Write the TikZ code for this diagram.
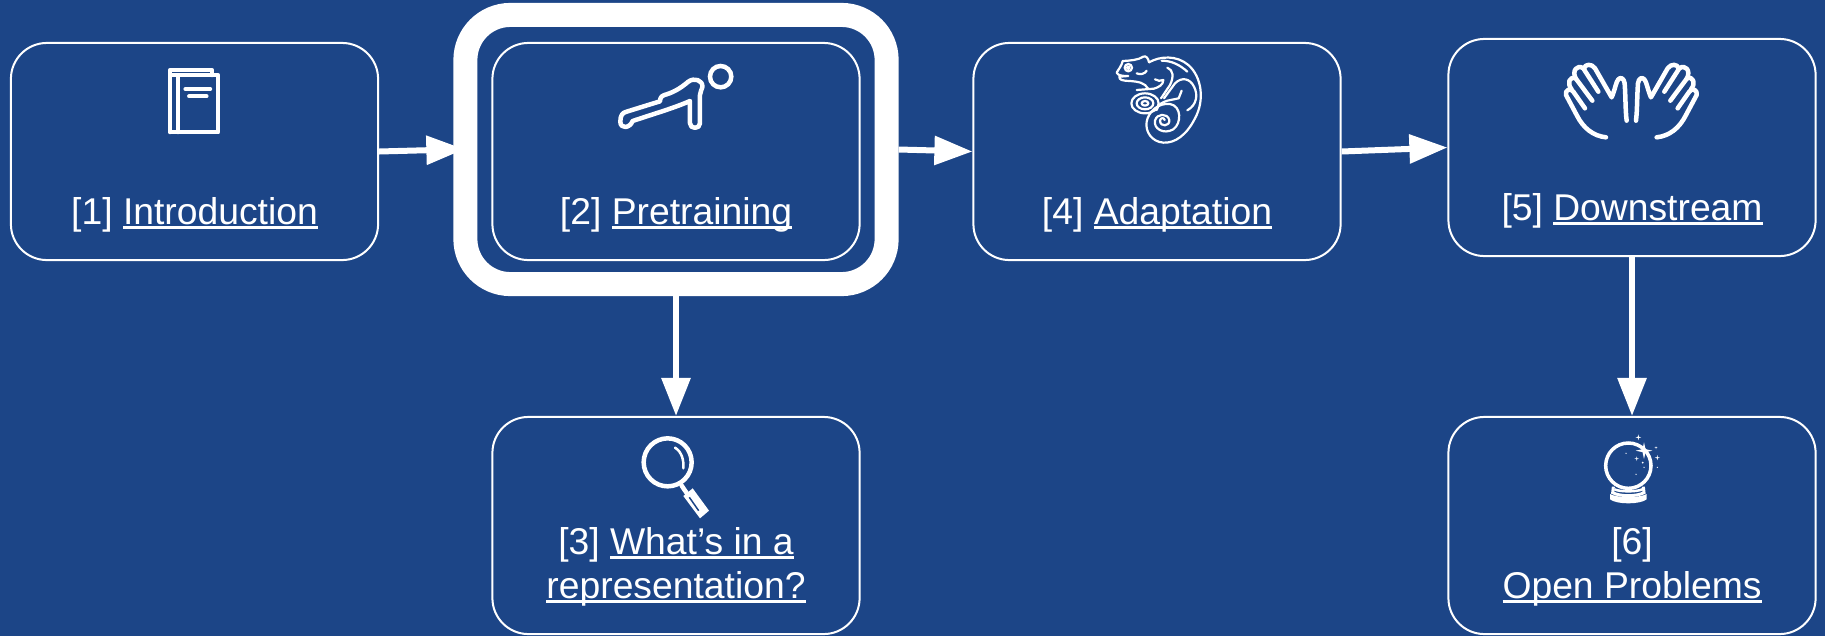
\documentclass[tikz,border=0pt]{standalone}
\usepackage{fontspec}
\setmainfont{Liberation Sans}
\usepackage{xcolor}
\usetikzlibrary{arrows.meta}
\definecolor{slideblue}{HTML}{1C4587}
\newcommand{\linktext}[1]{\leavevmode\setbox0\hbox{#1}\rlap{\rule[-1.45pt]{\wd0}{0.8pt}}\box0}
\newcommand{\sparkle}[3]{\fill[white,shift={(#1,#2)},scale=#3] (0,-1) -- (.18,-.18) -- (1,0) -- (.18,.18) -- (0,1) -- (-.18,.18) -- (-1,0) -- (-.18,-.18) -- cycle;}
\tikzset{
  stagebox/.style={draw=white, line width=0.02cm, rounded corners=0.36cm, minimum width=3.67cm, minimum height=2.17cm},
  focusbox/.style={draw=white, line width=0.24cm, rounded corners=0.45cm, minimum width=4.21cm, minimum height=2.69cm},
  stagetitle/.style={text=white, anchor=base, align=center, inner sep=0pt, font=\fontsize{10.6}{12.8}\selectfont},
  flow/.style={draw=white, line width=0.06cm, -{Triangle[length=0.38cm,width=0.28cm,fill=white]}},
  iconline/.style={draw=white, line width=0.045cm, line cap=round, line join=round}
}
\begin{document}
\begin{tikzpicture}[x=0.01cm,y=-0.01cm]
\fill[slideblue] (0,0) rectangle (1825,636);
\useasboundingbox (0,0) rectangle (1825,636);

% boxes
\node[stagebox] (intro) at (194.5,151.5) {};
\node[stagebox] (pretrain) at (676,151.5) {};
\node[focusbox] (focus) at (676,149.5) {};
\node[stagebox] (adapt) at (1157,151.5) {};
\node[stagebox] (downstream) at (1632,147.5) {};
\node[stagebox] (reprs) at (676,525.5) {};
\node[stagebox] (problems) at (1632,525.5) {};

% connectors
\draw[flow,shorten >=-0.11cm] (intro.east) -- (focus.west);
\draw[flow] (focus.east) -- (adapt.west);
\draw[flow] (adapt.east) -- (downstream.west);
\draw[flow] (focus.south) -- (reprs.north);
\draw[flow] (downstream.south) -- (problems.north);

% titles
\node[stagetitle] (introtitle) at (194.5,224) {[1] \linktext{Introduction}};
\node[stagetitle] (pretraintitle) at (676,224) {[2] \linktext{Pretraining}};
\node[stagetitle] (adapttitle) at (1157,224) {[4] \linktext{Adaptation}};
\node[stagetitle] (downstreamtitle) at (1632,220) {[5] \linktext{Downstream}};
\node[stagetitle] (reprstitle) at (676,554) {[3] \linktext{What’s in a}};
\node[stagetitle] (reprstitleb) at (676,598) {\linktext{representation?}};
\node[stagetitle] (problemstitle) at (1632,554) {[6]};
\node[stagetitle] (problemstitleb) at (1632,598) {\linktext{Open Problems}};

% book
\begin{scope}[scale=0.3333,line width=0.038cm]
\draw[iconline,line width=0.038cm] (511,397) -- (511,209) -- (636,209) -- (636,226);
\draw[iconline,line width=0.038cm] (511,397) -- (655,397) -- (655,226) -- (511,226);
\draw[iconline,line width=0.038cm] (533,226) -- (533,397);
\draw[iconline,line width=0.038cm] (556,267) -- (631,267);
\draw[iconline,line width=0.038cm] (567,289) -- (620,289);
\end{scope}

% push-up
\begin{scope}[shift={(440,0)},scale=0.3333]
\draw[iconline] (541,365) .. controls (541,345) and (548,338) .. (560,335) -- (660,304) .. controls (660,290) and (668,286) .. (680,283) .. controls (705,275) and (725,262) .. (745,245) .. controls (762,232) and (790,240) .. (787,262) .. controls (786,270) and (780,275) .. (780,285) -- (780,370) .. controls (780,388) and (750,388) .. (750,370) -- (750,303) .. controls (700,325) and (640,342) .. (578,363) .. controls (570,385) and (541,388) .. (541,365) -- cycle;
\draw[white,line width=0.045cm] (842,230) circle (32);
\end{scope}

% chameleon
\begin{scope}[shift={(1080,30)},scale=0.3333]
\tikzset{chameleon/.style={draw=white, line width=0.022cm, line cap=round, line join=round}}
\draw[chameleon] (207,97) .. controls (240,78) and (290,75) .. (325,105) .. controls (365,140) and (375,210) .. (345,265) .. controls (320,315) and (285,340) .. (250,338) .. controls (215,335) and (195,305) .. (200,275) .. controls (205,245) and (235,218) .. (270,222) .. controls (305,228) and (305,280) .. (280,298) .. controls (250,315) and (220,295) .. (225,272) .. controls (230,250) and (262,248) .. (268,270) .. controls (270,290) and (240,292) .. (240,272) .. controls (242,262) and (252,262) .. (254,270);
\draw[chameleon] (207,97) .. controls (205,85) and (198,76) .. (190,80) .. controls (175,90) and (150,92) .. (128,93) .. controls (125,108) and (115,118) .. (110,128) .. controls (115,137) and (125,138) .. (145,138) -- (118,140) .. controls (118,150) and (125,152) .. (150,153) .. controls (175,155) and (195,158) .. (205,177);
\draw[chameleon] (145,113) circle (11);
\draw[chameleon] (145,113) circle (4);
\draw[chameleon] (170,130) .. controls (180,135) and (195,132) .. (200,122);
\draw[chameleon] (245,92) .. controls (275,92) and (300,105) .. (322,125);
\draw[chameleon] (262,113) .. controls (280,120) and (282,140) .. (270,165) -- (243,205);
\draw[chameleon] (225,148) .. controls (232,155) and (242,152) .. (250,150) .. controls (250,165) and (235,172) .. (222,176) -- (170,180);
\draw[chameleon] (252,205) -- (285,160) .. controls (305,140) and (330,145) .. (342,170) .. controls (355,195) and (350,225) .. (322,241);
\draw[chameleon] (230,240) .. controls (235,222) and (245,218) .. (262,212) -- (296,205) -- (305,182);
\draw[chameleon] (195,220) ellipse (41 and 30);
\draw[chameleon] (195,220) ellipse (25 and 18);
\draw[chameleon] (195,220) ellipse (10 and 7);
\end{scope}

% hands
\foreach \side in {1,-1}
{
\begin{scope}[shift={(1631.3,50)},xscale=\side,scale=0.3333,shift={(-304,0)}]
\draw[iconline] (228,262) .. controls (190,258) and (160,235) .. (140,195) -- (108,135) .. controls (104,120) and (122,112) .. (130,125) -- (165,175);
\draw[iconline] (125,118) .. controls (110,100) and (118,78) .. (137,85) -- (187,152);
\draw[iconline] (137,85) .. controls (125,62) and (142,42) .. (160,55) -- (205,125);
\draw[iconline] (162,55) .. controls (165,42) and (185,40) .. (195,55) -- (245,142) .. controls (255,120) and (258,95) .. (265,88) .. controls (272,80) and (282,85) .. (284,100) .. controls (287,140) and (286,180) .. (290,212);
\end{scope}
}

% magnifier
\begin{scope}[shift={(600,420)},scale=0.3333]
\draw[iconline] (203,127) circle (72);
\draw[iconline,line width=0.025cm] (225,83) .. controls (245,95) and (252,120) .. (250,145);
\draw[iconline] (245,197) -- (262,222);
\fill[white] (250,228) -- (278,205) -- (327,272) -- (300,295) -- cycle;
\draw[slideblue,line width=0.015cm] (268,232) -- (296,272);
\end{scope}

% crystal ball
\begin{scope}[shift={(1570,420)},scale=0.3333]
\draw[white,line width=0.035cm] (175,137) circle (68);
\draw[white,line width=0.03cm] (130,200) -- (128,218) .. controls (150,230) and (200,230) .. (222,218) -- (220,200);
\draw[white,line width=0.025cm] (133,208) .. controls (150,216) and (200,216) .. (217,208);
\fill[white] (120,222) .. controls (140,234) and (210,234) .. (230,222) -- (230,238) .. controls (210,254) and (140,254) .. (120,238) -- cycle;
\sparkle{222}{92}{25}
\sparkle{205}{52}{9}
\sparkle{200}{116}{7}
\sparkle{262}{113}{8}
\sparkle{258}{83}{5}
\fill[white] (218,128) circle (3);
\fill[white] (222,142) circle (2);
\fill[white] (262,142) circle (2);
\fill[white] (168,100) circle (2);
\fill[white] (198,163) circle (2);
\end{scope}
\end{tikzpicture}
\end{document}
